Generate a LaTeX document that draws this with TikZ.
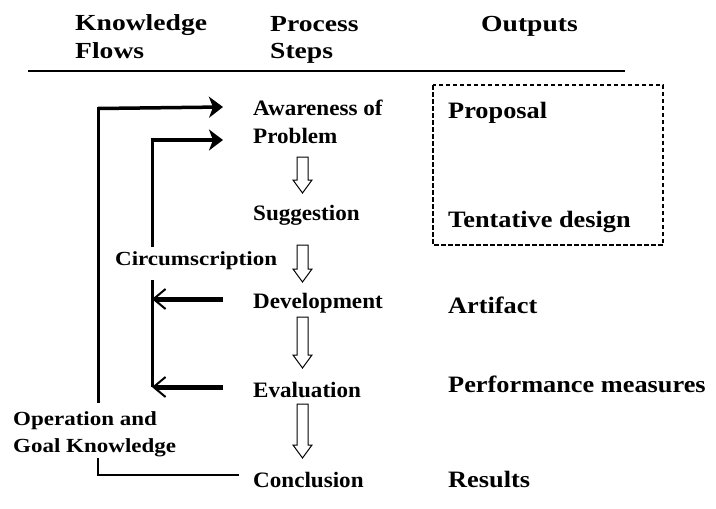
\documentclass[tikz,border=0pt]{standalone}
\usepackage{fontspec}
\usetikzlibrary{arrows.meta,calc}
\newfontfamily\hdfont{Liberation Serif}[FakeStretch=1.2]
\newfontfamily\stfont{Liberation Serif}[FakeStretch=1.05]
\newfontfamily\oufont{Liberation Serif}[FakeStretch=1.12]
\newfontfamily\lbfont{Liberation Serif}[FakeStretch=1.15]
\newcommand\hollowarrow[2]{%
  \draw[hollowstyle] ($(#1)+(-5.5,0)$) -- ($(#2)+(-5.5,-13)$) -- ($(#2)+(-9.5,-13)$) -- (#2)
    -- ($(#2)+(9.5,-13)$) -- ($(#2)+(5.5,-13)$) -- ($(#1)+(5.5,0)$) -- cycle;}
\begin{document}
\begin{tikzpicture}[x=1pt,y=-1pt,
  txt/.style={inner sep=0pt,anchor=base west},
  header/.style={txt,font=\hdfont\bfseries\fontsize{23}{27}\selectfont},
  stepbox/.style={txt,font=\stfont\bfseries\fontsize{22}{26}\selectfont},
  outbox/.style={txt,font=\oufont\bfseries\fontsize{23.5}{27}\selectfont},
  lbl/.style={txt,font=\lbfont\bfseries\fontsize{20}{24}\selectfont},
  hollowstyle/.style={draw=black,fill=white,line width=1pt,line join=miter},
  flowin/.style={line width=3.5pt,-{Stealth[length=14pt,width=21pt,inset=4pt]}},
  flowback/.style={line width=5pt,-{Straight Barb[length=12pt,width=20pt,line width=2pt]}},
  loopline/.style={line width=3pt},
]
\useasboundingbox (0,0) rectangle (716,509);
\fill[white] (0,0) rectangle (716,509);

% headers
\node[header] (hk1) at (75,30) {Knowledge};
\node[header] (hk2) at (75,58) {Flows};
\node[header] (hp1) at (270,31) {Process};
\node[header] (hp2) at (270,58) {Steps};
\node[header] (ho) at (481,31) {Outputs};
\draw[line width=2pt] (28,71) coordinate (r1) -- (625,71) coordinate (r2);

% process steps
\node[stepbox] (aw1) at (253,115) {Awareness of};
\node[stepbox] (aw2) at (253,143) {Problem};
\node[stepbox] (sug) at (253,220) {Suggestion};
\node[stepbox] (dev) at (253,308) {Development};
\node[stepbox] (eva) at (253,397) {Evaluation};
\node[stepbox] (con) at (253,487) {Conclusion};

% outputs
\node[outbox] (prop) at (448,118) {Proposal};
\node[outbox] (tent) at (448,227) {Tentative design};
\node[outbox] (arti) at (448,313) {Artifact};
\node[outbox] (perf) at (448,392) {Performance measures};
\node[outbox] (resu) at (448,487) {Results};
\draw[line width=2.5pt,dash pattern=on 4.5pt off 2.5pt] (433,85) rectangle (663,245);

% labels
\node[lbl] (circ) at (115,265) {Circumscription};
\node[lbl] (op1) at (13,425) {Operation and};
\node[lbl] (op2) at (13,452) {Goal Knowledge};

% hollow arrows between steps
\coordinate (h1a) at (302.5,157); \coordinate (h1b) at (302.5,193);
\coordinate (h2a) at (302.5,245); \coordinate (h2b) at (302.5,282);
\coordinate (h3a) at (302.5,317); \coordinate (h3b) at (302.5,368);
\coordinate (h4a) at (302.5,404); \coordinate (h4b) at (302.5,458);
\hollowarrow{h1a}{h1b}
\hollowarrow{h2a}{h2b}
\hollowarrow{h3a}{h3b}
\hollowarrow{h4a}{h4b}

% knowledge flow coordinates
\coordinate (outTip) at (223,107);
\coordinate (outTL) at (98,107);
\coordinate (outGapTop) at (98,403);
\coordinate (outGapBot) at (98,458);
\coordinate (outBL) at (98,475);
\coordinate (conEnd) at (239,475);
\coordinate (inTip) at (223,140);
\coordinate (inTL) at (152,140);
\coordinate (inGapTop) at (152,247);
\coordinate (inGapBot) at (152,280);
\coordinate (inBot) at (152,387);
\coordinate (devStart) at (223,299);
\coordinate (devEnd) at (152,299);
\coordinate (evaStart) at (223,387);
\coordinate (evaEnd) at (152,387);

% operation and goal knowledge loop
\draw[line width=2.5pt,line join=miter] (conEnd) -- (outBL) -- (outGapBot);
\draw[loopline] (outGapTop) -- (outTL);
\draw[flowin,line join=miter] ([yshift=-1.5pt]outTL) -- (outTip);

% circumscription loop
\draw[loopline] (inBot) -- (inGapBot);
\draw[loopline] (inGapTop) -- (inTL);
\draw[flowin,line join=miter] ([xshift=-1.5pt]inTL) -- (inTip);
\draw[flowback] (devStart) -- (devEnd);
\draw[flowback] (evaStart) -- (evaEnd);
\end{tikzpicture}
\end{document}
